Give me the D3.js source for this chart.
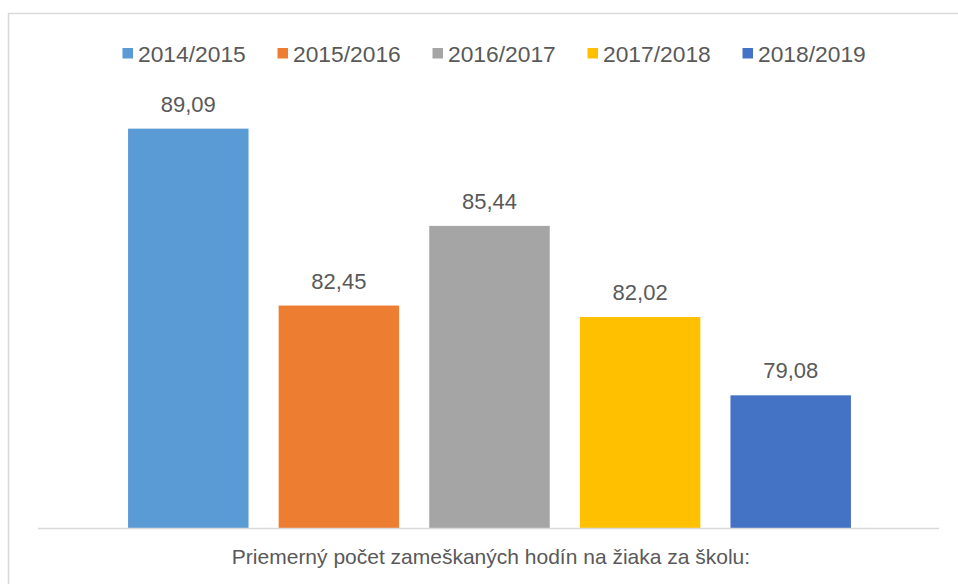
<!DOCTYPE html>
<meta charset="utf-8">
<style>
body { margin: 0; background: #fff; }
text { font-family: "Liberation Sans", Arial, sans-serif; fill: #595959; }
.label { font-size: 22px; text-anchor: middle; }
.legend text { font-size: 22.8px; }
</style>
<body>
<script src="https://cdn.jsdelivr.net/npm/d3@7"></script>
<script>

var width = 958,
    height = 584;

var category = "Priemerný počet zameškaných hodín na žiaka za školu:";
var seasons = ["2014/2015", "2015/2016", "2016/2017", "2017/2018", "2018/2019"];
var values = [89.09, 82.45, 85.44, 82.02, 79.08];
var colors = ["#5B9BD5", "#ED7D31", "#A5A5A5", "#FFC000", "#4472C4"];

var data = seasons.map(function(s, i) { return { season: s, value: values[i] }; });

var fmt = function(v) { return d3.format(".2f")(v).replace(".", ","); };

var svg = d3.select("body").append("svg")
    .attr("width", width)
    .attr("height", height);

// chart frame
svg.append("rect")
    .attr("x", 8.5)
    .attr("y", 13.5)
    .attr("width", 970)
    .attr("height", 600)
    .attr("fill", "none")
    .attr("stroke", "#D9D9D9")
    .attr("stroke-width", 1.5);

var x = d3.scaleBand()
    .domain(seasons)
    .range([113, 866])
    .paddingInner(0.2)
    .paddingOuter(0.1);

var y = d3.scaleLinear()
    .domain([74.1, 90])
    .range([528, 104.4]);

var color = d3.scaleOrdinal()
    .domain(seasons)
    .range(colors);

svg.selectAll(".bar")
    .data(data)
  .enter().append("rect")
    .attr("class", "bar")
    .attr("x", function(d) { return x(d.season); })
    .attr("width", x.bandwidth())
    .attr("y", function(d) { return y(d.value); })
    .attr("height", function(d) { return y.range()[0] - y(d.value); })
    .attr("fill", function(d) { return color(d.season); });

svg.selectAll(".label")
    .data(data)
  .enter().append("text")
    .attr("class", "label")
    .attr("x", function(d) { return x(d.season) + x.bandwidth() / 2; })
    .attr("y", function(d) { return y(d.value) - 17; })
    .text(function(d) { return fmt(d.value); });

// category axis
svg.append("line")
    .attr("x1", 38)
    .attr("x2", 939)
    .attr("y1", 528.5)
    .attr("y2", 528.5)
    .attr("stroke", "#D9D9D9")
    .attr("stroke-width", 1.5);

svg.append("text")
    .attr("x", 491)
    .attr("y", 564)
    .attr("text-anchor", "middle")
    .style("font-size", "21px")
    .text(category);

// legend
var legend = svg.append("g")
    .attr("class", "legend")
    .selectAll("g")
    .data(seasons)
  .enter().append("g")
    .attr("transform", function(d, i) { return "translate(" + (122.5 + i * 155) + ",0)"; });

legend.append("rect")
    .attr("y", 48)
    .attr("width", 10.5)
    .attr("height", 10.5)
    .attr("fill", function(d) { return color(d); });

legend.append("text")
    .attr("x", 15.5)
    .attr("y", 61.5)
    .text(function(d) { return d; });

</script>
</body>
